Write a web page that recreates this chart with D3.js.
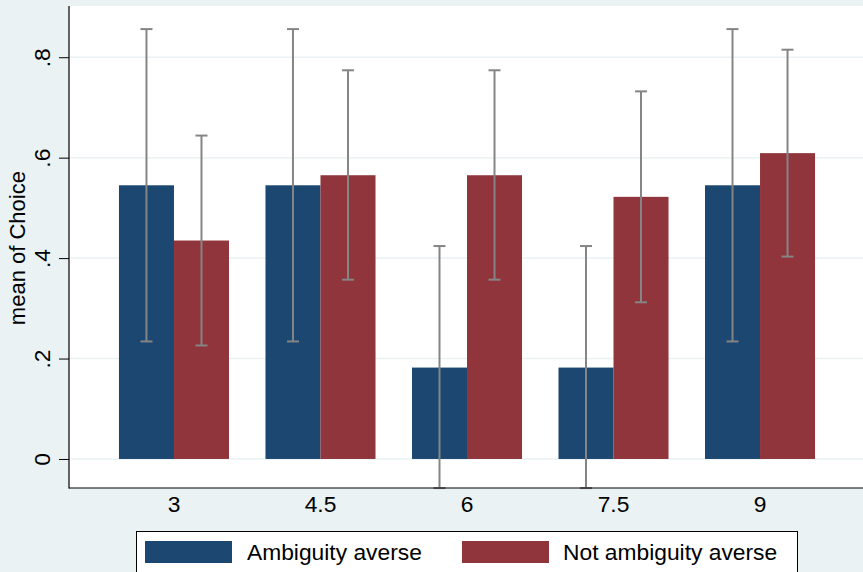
<!DOCTYPE html>
<html>
<head>
<meta charset="utf-8">
<script src="https://cdn.jsdelivr.net/npm/d3@7"></script>
<style>
  html, body { margin: 0; padding: 0; background: #EAF2F3; }
  svg { display: block; }
  text { font-family: "Liberation Sans", Arial, sans-serif; fill: #000; }
</style>
</head>
<body>
<script>
// ---- data ----
const categories = ["3", "4.5", "6", "7.5", "9"];
const seriesNames = ["Ambiguity averse", "Not ambiguity averse"];
const averseMean = [0.545, 0.545, 0.182, 0.182, 0.545];
const averseLo   = [0.234, 0.234, -0.058, -0.058, 0.234];
const averseHi   = [0.856, 0.856, 0.424, 0.424, 0.856];
const notAverseMean = [0.435, 0.565, 0.565, 0.522, 0.609];
const notAverseLo   = [0.226, 0.357, 0.357, 0.312, 0.403];
const notAverseHi   = [0.644, 0.774, 0.774, 0.732, 0.815];
const yTicks = [0, 0.2, 0.4, 0.6, 0.8];
const yTickLabels = ["0", ".2", ".4", ".6", ".8"];
const colors = ["#1B4770", "#90353B"];

const W = 863, H = 572;
const plot = { left: 69, right: 865, top: 6, bottom: 488 };

const svg = d3.select("body").append("svg").attr("width", W).attr("height", H);
svg.append("rect").attr("width", W).attr("height", H).attr("fill", "#EAF2F3");

// plot region
svg.append("rect")
  .attr("x", plot.left).attr("y", plot.top)
  .attr("width", plot.right - plot.left).attr("height", plot.bottom - plot.top)
  .attr("fill", "#fff");

const x = d3.scaleBand().domain(categories)
  .range([plot.left, plot.right]).paddingInner(0.249).paddingOuter(0.341);
const xs = d3.scaleBand().domain(seriesNames).range([0, x.bandwidth()]);
const y = d3.scaleLinear().domain([-0.0578, 0.902]).range([plot.bottom, plot.top]);

// gridlines
svg.append("g").selectAll("line").data(yTicks).join("line")
  .attr("x1", plot.left).attr("x2", plot.right)
  .attr("y1", d => y(d)).attr("y2", d => y(d))
  .attr("stroke", "#EAF2F3").attr("stroke-width", 1.5);

const rows = categories.map((c, i) => ({
  cat: c,
  vals: [
    { s: seriesNames[0], m: averseMean[i], lo: averseLo[i], hi: averseHi[i], k: 0 },
    { s: seriesNames[1], m: notAverseMean[i], lo: notAverseLo[i], hi: notAverseHi[i], k: 1 }
  ]
}));

const groups = svg.append("g").selectAll("g").data(rows).join("g")
  .attr("transform", d => `translate(${x(d.cat)},0)`);

groups.selectAll("rect").data(d => d.vals).join("rect")
  .attr("x", d => xs(d.s)).attr("width", xs.bandwidth())
  .attr("y", d => y(d.m)).attr("height", d => y(0) - y(d.m))
  .attr("fill", d => colors[d.k]);

// error bars
const capW = 12;
const eb = groups.selectAll("g.eb").data(d => d.vals).join("g").attr("class", "eb");
eb.append("line")
  .attr("x1", d => xs(d.s) + xs.bandwidth() / 2).attr("x2", d => xs(d.s) + xs.bandwidth() / 2)
  .attr("y1", d => y(d.lo)).attr("y2", d => y(d.hi))
  .attr("stroke", "#858585").attr("stroke-width", 2);
eb.selectAll("line.cap").data(d => [d.lo, d.hi].map(v => ({ v, c: xs(d.s) + xs.bandwidth() / 2 })))
  .join("line").attr("class", "cap")
  .attr("x1", d => d.c - capW / 2).attr("x2", d => d.c + capW / 2)
  .attr("y1", d => y(d.v)).attr("y2", d => y(d.v))
  .attr("stroke", "#858585").attr("stroke-width", 2);

// y axis
const yAxis = d3.axisLeft(y).tickValues(yTicks)
  .tickFormat((d, i) => yTickLabels[i]).tickSize(10).tickPadding(0);
const yg = svg.append("g").attr("transform", `translate(${plot.left},0)`).call(yAxis);
yg.select(".domain").remove();
yg.selectAll(".tick line").attr("stroke", "#000").attr("stroke-width", 1);
yg.selectAll(".tick text")
  .attr("font-size", 22.8).attr("text-anchor", "middle").attr("dy", null)
  .attr("x", null).attr("y", null)
  .attr("transform", "translate(-19,0) rotate(-90)");
svg.append("line").attr("x1", plot.left).attr("x2", plot.left)
  .attr("y1", plot.top).attr("y2", plot.bottom + 0.5).attr("stroke", "#000").attr("stroke-width", 1.2);

// x axis
const xAxis = d3.axisBottom(x).tickSize(0).tickPadding(0);
const xg = svg.append("g").attr("transform", `translate(0,${plot.bottom})`).call(xAxis);
xg.select(".domain").remove();
xg.selectAll(".tick text").attr("font-size", 22.8).attr("dy", null).attr("y", 24);
svg.append("line").attr("x1", plot.left).attr("x2", W)
  .attr("y1", plot.bottom).attr("y2", plot.bottom).attr("stroke", "#000").attr("stroke-width", 1.2);

// y title
svg.append("text").attr("transform", `translate(25,${(y(0.8) + y(0)) / 2 - 10}) rotate(-90)`)
  .attr("text-anchor", "middle").attr("font-size", 22).text("mean of Choice");

// legend
const lg = svg.append("g");
lg.append("rect").attr("x", 136.5).attr("y", 531.5).attr("width", 661).attr("height", 60)
  .attr("fill", "#fff").attr("stroke", "#000").attr("stroke-width", 1);
const legendItems = [
  { name: seriesNames[0], color: colors[0], sx: 145, tx: 247 },
  { name: seriesNames[1], color: colors[1], sx: 462, tx: 563 }
];
lg.selectAll("rect.sw").data(legendItems).join("rect").attr("class", "sw")
  .attr("x", d => d.sx).attr("y", 541).attr("width", 87).attr("height", 22).attr("fill", d => d.color);
lg.selectAll("text").data(legendItems).join("text")
  .attr("x", d => d.tx).attr("y", 560).attr("font-size", 22.8).text(d => d.name);
</script>
</body>
</html>
